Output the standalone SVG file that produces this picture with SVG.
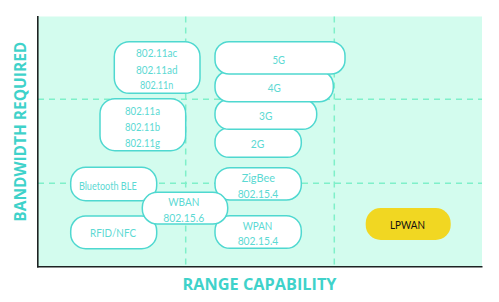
<svg xmlns="http://www.w3.org/2000/svg" width="499" height="302" viewBox="0 0 499 302">
<style>
.node rect{fill:#ffffff;stroke:#4fd8d0;stroke-width:1.5}
.node text{font-family:"Lato","Open Sans",sans-serif;font-size:11.5px;fill:#5cd9d3;text-anchor:middle;dominant-baseline:central}
.grid{stroke:#7ff0c9;stroke-width:1.5;stroke-dasharray:6 5;fill:none}
.axislabel{font-family:"Open Sans","Liberation Sans",sans-serif;font-weight:bold;font-size:15.5px;fill:#3fd2ca;text-anchor:middle;dominant-baseline:central}
</style>
<rect width="499" height="302" fill="#ffffff"/>
<rect x="38" y="16.5" width="444" height="250" fill="#d3fcee"/>
<g id="grid">
<line class="grid" x1="185.7" y1="16.5" x2="185.7" y2="266"/>
<line class="grid" x1="334.3" y1="16.5" x2="334.3" y2="266"/>
<line class="grid" x1="38" y1="99.3" x2="482" y2="99.3"/>
<line class="grid" x1="38" y1="183.3" x2="482" y2="183.3"/>
</g>
<g id="axes" stroke="#1d2222" stroke-width="1.6" fill="none">
<line x1="37.8" y1="16" x2="37.8" y2="267.5"/>
<line x1="37" y1="266.8" x2="482.5" y2="266.8"/>
</g>
<text class="axislabel" x="0" y="0" transform="translate(19.5,131.7) rotate(-90)" textLength="180" lengthAdjust="spacingAndGlyphs">BANDWIDTH REQUIRED</text>
<text class="axislabel" x="259.5" y="284" textLength="154" lengthAdjust="spacingAndGlyphs">RANGE CAPABILITY</text>
<g id="connectors"></g>
<g id="n-wifi-ac" class="node">
<rect x="114.3" y="41.7" width="85.7" height="51.6" rx="15"/>
<text x="156.7" y="52.7" textLength="41.3" lengthAdjust="spacingAndGlyphs">802.11ac</text>
<text x="156.8" y="69" textLength="41.7" lengthAdjust="spacingAndGlyphs">802.11ad</text>
<text x="156.7" y="84.3" textLength="33.3" lengthAdjust="spacingAndGlyphs">802.11n</text>
</g>
<g id="n-wifi-a" class="node">
<rect x="100" y="98.7" width="85.7" height="52" rx="15"/>
<text x="142.5" y="110" textLength="35" lengthAdjust="spacingAndGlyphs">802.11a</text>
<text x="142.5" y="126.5" textLength="35" lengthAdjust="spacingAndGlyphs">802.11b</text>
<text x="142.5" y="142.3" textLength="35" lengthAdjust="spacingAndGlyphs">802.11g</text>
</g>
<g id="n-2g" class="node">
<rect x="215" y="127.7" width="86.3" height="29.6" rx="14"/>
<text x="257.5" y="143" textLength="13.6" lengthAdjust="spacingAndGlyphs">2G</text>
</g>
<g id="n-3g" class="node">
<rect x="215" y="99.3" width="101.7" height="30" rx="14"/>
<text x="265.7" y="115" textLength="13.3" lengthAdjust="spacingAndGlyphs">3G</text>
</g>
<g id="n-4g" class="node">
<rect x="215" y="71" width="118.3" height="30.7" rx="14"/>
<text x="274.2" y="87" textLength="13" lengthAdjust="spacingAndGlyphs">4G</text>
</g>
<g id="n-5g" class="node">
<rect x="215" y="41.7" width="130" height="32.3" rx="14"/>
<text x="278.8" y="59" textLength="12.5" lengthAdjust="spacingAndGlyphs">5G</text>
</g>
<g id="n-ble" class="node">
<rect x="70.7" y="167.3" width="86" height="33.4" rx="15"/>
<text x="107.8" y="185" textLength="57.7" lengthAdjust="spacingAndGlyphs">Bluetooth BLE</text>
</g>
<g id="n-rfid" class="node">
<rect x="70.7" y="216" width="86" height="32.7" rx="15"/>
<text x="113" y="232.7" textLength="46" lengthAdjust="spacingAndGlyphs">RFID/NFC</text>
</g>
<g id="n-zigbee" class="node">
<rect x="215" y="167.7" width="86.3" height="32.3" rx="15"/>
<text x="258.3" y="177.7" textLength="33.3" lengthAdjust="spacingAndGlyphs">ZigBee</text>
<text x="258" y="193.3" textLength="40.7" lengthAdjust="spacingAndGlyphs">802.15.4</text>
</g>
<g id="n-wpan" class="node">
<rect x="215" y="215.7" width="86.3" height="32.6" rx="15"/>
<text x="257.5" y="225" textLength="29.7" lengthAdjust="spacingAndGlyphs">WPAN</text>
<text x="258" y="240" textLength="40.7" lengthAdjust="spacingAndGlyphs">802.15.4</text>
</g>
<g id="n-wban" class="node">
<rect x="142.3" y="192.3" width="85.4" height="31.7" rx="15"/>
<text x="183.8" y="201.7" textLength="31" lengthAdjust="spacingAndGlyphs">WBAN</text>
<text x="183.8" y="217.3" textLength="41" lengthAdjust="spacingAndGlyphs">802.15.6</text>
</g>
<g id="n-lpwan">
<rect x="365.7" y="208" width="85" height="32" rx="15" fill="#f1d722"/>
<text x="407.5" y="224" font-family="Lato,'Open Sans',sans-serif" font-size="11.5px" fill="#111111" text-anchor="middle" dominant-baseline="central" textLength="35" lengthAdjust="spacingAndGlyphs">LPWAN</text>
</g>
</svg>
